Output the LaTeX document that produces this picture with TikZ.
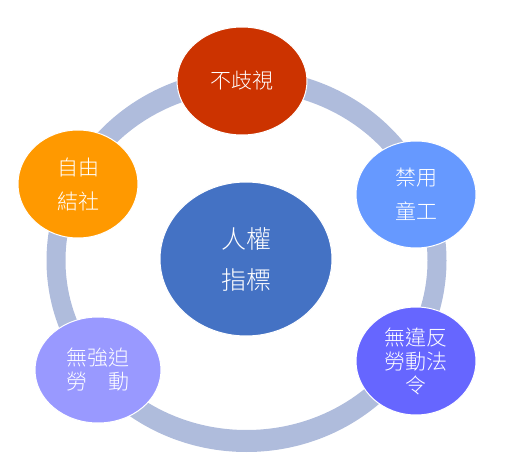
\documentclass[tikz,border=0pt]{standalone}
\usepackage{fontspec}
\newfontfamily\cjk{Noto Sans CJK TC Light}
\usetikzlibrary{shapes.geometric}
\definecolor{ringc}{RGB}{175,188,220}
\definecolor{cred}{HTML}{CC3300}
\definecolor{corange}{HTML}{FF9900}
\definecolor{clblue}{HTML}{6699FF}
\definecolor{ccenter}{HTML}{4472C4}
\definecolor{clav}{HTML}{9999FF}
\definecolor{cviol}{HTML}{6666FF}
\tikzset{
  bubble/.style={ellipse, draw=white, line width=1pt, inner sep=0pt, text=white, align=center},
  wide/.style={font=\cjk\fontsize{21}{34}\selectfont},
  tight/.style={font=\cjk\fontsize{21}{24}\selectfont},
  big/.style={font=\cjk\fontsize{25}{41}\selectfont}
}
\begin{document}
\begin{tikzpicture}[x=1pt,y=-1pt]
\useasboundingbox (0,0) rectangle (506,473);
\fill[ringc, even odd rule] (246.5,260.6) ellipse [x radius=200pt, y radius=191.4pt]
  (246.5,260.6) ellipse [x radius=181pt, y radius=169.4pt];
\node[bubble, fill=ccenter, big, minimum width=172pt, minimum height=154pt] (center) at (246,259) {人權\\指標};
\node[bubble, fill=cred, wide, minimum width=130pt, minimum height=108pt] (nodisc) at (242,81) {不歧視};
\node[bubble, fill=corange, wide, minimum width=120pt, minimum height=108pt] (assoc) at (78,184) {自由\\結社};
\node[bubble, fill=clblue, wide, minimum width=120pt, minimum height=107pt] (child) at (416,194.5) {禁用\\童工};
\node[bubble, fill=clav, tight, minimum width=126pt, minimum height=106pt] (forced) at (98,370) {無強迫\\勞　動};
\node[bubble, fill=cviol, tight, minimum width=120pt, minimum height=108pt] (law) at (416,361) {無違反\\勞動法\\令};
\end{tikzpicture}
\end{document}
